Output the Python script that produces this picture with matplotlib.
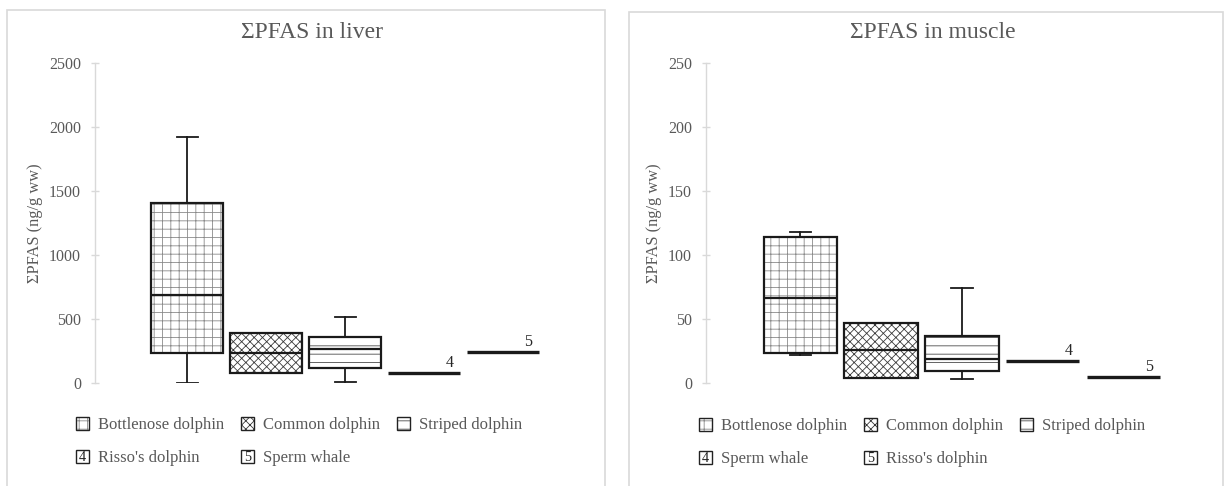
import matplotlib
matplotlib.use("Agg")
import matplotlib.pyplot as plt
from matplotlib.patches import Rectangle, Patch
from matplotlib.text import Text
from matplotlib.legend_handler import HandlerBase
from matplotlib.colors import to_rgba

plt.rcParams['font.family'] = ['Liberation Serif', 'DejaVu Serif']
plt.rcParams['hatch.linewidth'] = 0.6

# ---------------- data ----------------
liver_title = "ΣPFAS in liver"
liver_box_species = ["Bottlenose dolphin", "Common dolphin", "Striped dolphin"]
liver_whislo = [0, 81, 8]
liver_q1 = [237, 81, 115]
liver_med = [687, 232, 265]
liver_q3 = [1406, 388, 357]
liver_whishi = [1922, 388, 518]
liver_single_species = ["Risso's dolphin", "Sperm whale"]
liver_single_values = [75, 245]
liver_yticks = [0, 500, 1000, 1500, 2000, 2500]

muscle_title = "ΣPFAS in muscle"
muscle_box_species = ["Bottlenose dolphin", "Common dolphin", "Striped dolphin"]
muscle_whislo = [21.6, 4, 3]
muscle_q1 = [23.2, 4, 9]
muscle_med = [66.1, 25.5, 18.5]
muscle_q3 = [114.3, 47, 37]
muscle_whishi = [117.7, 47, 74]
muscle_single_species = ["Sperm whale", "Risso's dolphin"]
muscle_single_values = [17.5, 5]
muscle_yticks = [0, 50, 100, 150, 200, 250]

ylabel = "ΣPFAS (ng/g ww)"
single_labels = ["4", "5"]
hatches = ['++', 'xxxx', '--']
hatch_colors = ['#8a8a8a', '#3a3a3a', '#4a4a4a']

GRAY_TXT = '#595959'
GRAY_LINE = '#d9d9d9'

W, H = 1228, 486
fig = plt.figure(figsize=(W / 100, H / 100), dpi=100)


def fx(px):
    return px / W


def fy(py):
    return 1 - py / H


# panel borders
fig.patches.append(Rectangle((fx(7), fy(490)), fx(605 - 7), fy(10) - fy(490),
                             transform=fig.transFigure, fill=False,
                             edgecolor=GRAY_LINE, lw=1.2, zorder=0))
fig.patches.append(Rectangle((fx(629), fy(490)), fx(1223 - 629), fy(12) - fy(490),
                             transform=fig.transFigure, fill=False,
                             edgecolor=GRAY_LINE, lw=1.2, zorder=0))


class NumBox:
    def __init__(self, n):
        self.n = n


class NumBoxHandler(HandlerBase):
    def create_artists(self, legend, orig, xd, yd, w, h, fs, trans):
        r = Rectangle((-xd, -yd), w, h, facecolor='white', edgecolor='#222222',
                      lw=1.0, transform=trans)
        t = Text(-xd + w / 2, -yd + h / 2 - 0.5, orig.n, ha='center', va='center',
                 fontsize=fs * 0.85, color='#222222', transform=trans)
        return [r, t]


def panel(ax_rect, title, title_x, species, wlo, q1, med, q3, whi, single_species,
          single_values, yticks, legend_anchor, ylabel_x):
    ax = fig.add_axes(ax_rect)
    stats = []
    for i in range(len(species)):
        stats.append(dict(med=med[i], q1=q1[i], q3=q3[i], whislo=wlo[i],
                          whishi=whi[i], fliers=[], label=species[i]))
    n_box = len(species)
    positions = list(range(n_box))
    width = 0.91
    bp = ax.bxp(stats, positions=positions, widths=width, patch_artist=True,
                showfliers=False, capwidths=0.27,
                boxprops=dict(facecolor='white', edgecolor='#1a1a1a', linewidth=1.6),
                medianprops=dict(color='#1a1a1a', linewidth=1.6),
                whiskerprops=dict(color='#1a1a1a', linewidth=1.3),
                capprops=dict(color='#1a1a1a', linewidth=1.3))
    for b, h, hc in zip(bp['boxes'], hatches, hatch_colors):
        b.set_hatch(h)
        b._hatch_color = to_rgba(hc)
        b.set_zorder(3)
    for m in bp['medians']:
        m.set_zorder(4)
    for j, v in enumerate(single_values):
        p = n_box + j
        ax.hlines(v, p - width / 2, p + width / 2, color='#1a1a1a', lw=2.4, zorder=3)
        ax.annotate(single_labels[j], xy=(p + width / 2, v), xytext=(-5, 1.5),
                    textcoords='offset points', ha='right', va='bottom',
                    fontsize=11.5, color='#262626')
    ax.set_xlim(-1.17, 4.8)
    ax.set_ylim(yticks[0], yticks[-1])
    ax.set_yticks(yticks)
    ax.set_xticks([])
    for s in ['top', 'right', 'bottom']:
        ax.spines[s].set_visible(False)
    ax.spines['left'].set_color(GRAY_LINE)
    ax.spines['left'].set_linewidth(1.0)
    ax.tick_params(axis='y', direction='inout', length=6, width=1.0,
                   color=GRAY_LINE, labelcolor=GRAY_TXT, labelsize=11.5, pad=7)
    ax.patch.set_alpha(0)

    fig.text(fx(title_x), fy(33), title, fontsize=17, color=GRAY_TXT,
             ha='center', va='center')
    fig.text(fx(ylabel_x), fy(223), ylabel, fontsize=11.8, color=GRAY_TXT,
             ha='center', va='center', rotation=90)

    handles = []
    for h, hc in zip(hatches, hatch_colors):
        ph = Patch(facecolor='white', edgecolor='#222222', hatch=h, lw=1.0)
        ph._hatch_color = to_rgba(hc)
        handles.append(ph)
    handles += [NumBox('4'), NumBox('5')]
    labels = list(species) + list(single_species)
    # row-major order for a 3-column legend (matplotlib fills column-wise)
    order = [0, 3, 1, 4, 2]
    leg = ax.legend([handles[i] for i in order], [labels[i] for i in order],
                    ncol=3, loc='upper left',
                    bbox_to_anchor=legend_anchor, bbox_transform=fig.transFigure,
                    frameon=False, fontsize=12, handlelength=0.78, handleheight=0.78,
                    handletextpad=0.55, columnspacing=1.0, labelspacing=1.04,
                    borderpad=0, borderaxespad=0,
                    handler_map={NumBox: NumBoxHandler()})
    for t in leg.get_texts():
        t.set_color(GRAY_TXT)
    return ax


panel([fx(95), fy(383), fx(95 + 79 * 5.97) - fx(95), fy(63) - fy(383)],
      liver_title, 312, liver_box_species, liver_whislo, liver_q1, liver_med,
      liver_q3, liver_whishi, liver_single_species, liver_single_values,
      liver_yticks, (fx(76), fy(417)), 35)

panel([fx(706), fy(383), fx(706 + 80.7 * 5.97) - fx(706), fy(63) - fy(383)],
      muscle_title, 933, muscle_box_species, muscle_whislo, muscle_q1, muscle_med,
      muscle_q3, muscle_whishi, muscle_single_species, muscle_single_values,
      muscle_yticks, (fx(699), fy(418)), 654)

fig.savefig("out.png", dpi=100)
